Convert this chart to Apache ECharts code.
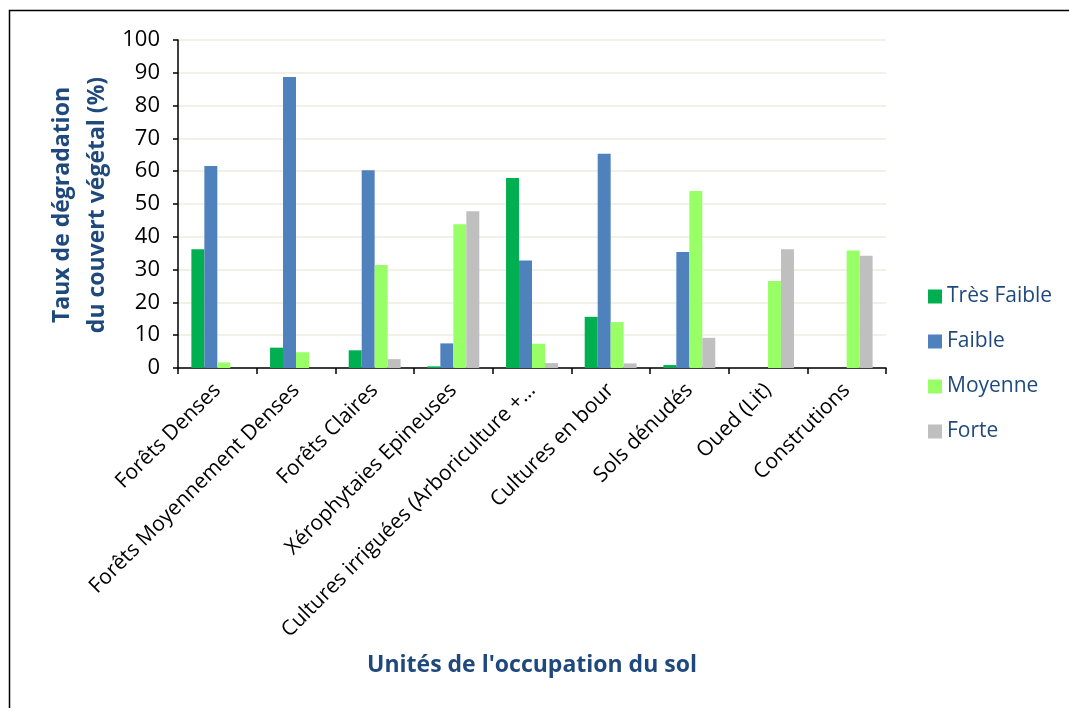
<!DOCTYPE html>
<html><head><meta charset="utf-8">
<script src="https://cdn.jsdelivr.net/npm/echarts@6/dist/echarts.min.js"></script>
<style>html,body{margin:0;padding:0;background:#fff}#c{width:1069px;height:708px}</style>
</head><body><div id="c"></div>
<script>
const categories = ["Forêts Denses","Forêts Moyennement Denses","Forêts Claires","Xérophytaies Epineuses","Cultures irriguées (Arboriculture +…","Cultures en bour","Sols dénudés","Oued (Lit)","Construtions"];
const tresFaible = [36.2, 6.2, 5.4, 0.5, 57.9, 15.6, 0.9, 0, 0];
const faible     = [61.6, 88.7, 60.3, 7.5, 32.8, 65.3, 35.4, 0, 0];
const moyenne    = [1.7, 4.8, 31.4, 43.8, 7.4, 14.0, 54.0, 26.5, 35.8];
const forte      = [0, 0, 2.7, 47.8, 1.5, 1.4, 9.2, 36.2, 34.2];
const seriesNames = ["Très Faible","Faible","Moyenne","Forte"];
const colors = ["#00B050","#4F81BD","#99FF66","#BFBFBF"];
const font = "Open Sans";
const chart = echarts.init(document.getElementById('c'), null, {renderer:'canvas'});
const data = [tresFaible, faible, moyenne, forte];
chart.setOption({
  animation:false,
  color: colors,
  grid:{left:178, top:40, right:183, bottom:340, containLabel:false},
  legend:{orient:'vertical', left:923, top:281, itemGap:24, itemWidth:14, itemHeight:14, icon:'rect',
    textStyle:{fontFamily:font, fontSize:21, color:'#1F497D'}, data:seriesNames},
  xAxis:{type:'category', data:categories,
    axisLine:{lineStyle:{color:'#000', width:1.5}},
    axisTick:{show:true, length:6, lineStyle:{color:'#000', width:1.5}},
    axisLabel:{rotate:45, interval:0, fontFamily:font, fontSize:21, color:'#000', margin:19}},
  yAxis:{type:'value', min:0, max:100, interval:10,
    axisLine:{show:true, lineStyle:{color:'#000', width:1.5}},
    axisTick:{show:true, length:5, lineStyle:{color:'#000', width:1.5}},
    splitLine:{lineStyle:{color:'#EEECE1', width:1.5}},
    axisLabel:{fontFamily:font, fontSize:22, color:'#000', margin:18}},
  series: seriesNames.map((n,i)=>({name:n, type:'bar', data:data[i], barGap:'0%', barCategoryGap:'34%',
    itemStyle:{color:colors[i]}})),
  graphic:[
    {type:'rect', shape:{x:9.5, y:10.5, width:1080, height:720}, style:{fill:'none', stroke:'#000', lineWidth:1.5}, silent:true},
    {type:'text', x:80, y:205, rotation:Math.PI/2, style:{text:'Taux de dégradation\ndu couvert végétal (%)', fontFamily:font, fontWeight:'bold', fontSize:23, fill:'#1F497D', align:'center', verticalAlign:'middle', lineHeight:35}},
    {type:'text', x:532, y:665, style:{text:"Unités de l'occupation du sol", fontFamily:font, fontWeight:'bold', fontSize:23, fill:'#1F497D', align:'center', verticalAlign:'middle'}}
  ]
});
</script></body></html>
